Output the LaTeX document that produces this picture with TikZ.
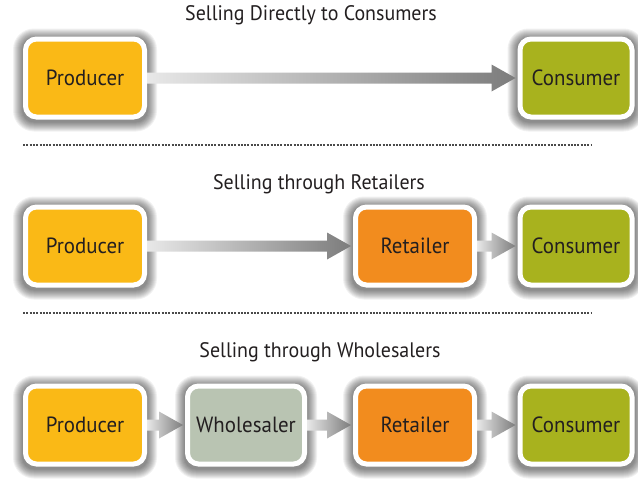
\documentclass[tikz,border=0pt]{standalone}
\usepackage{fontspec}
\setmainfont[FakeStretch=0.95]{PT Sans}
\usetikzlibrary{calc,backgrounds}
\definecolor{prodY}{HTML}{FAB916}
\definecolor{consG}{HTML}{A8B21E}
\definecolor{retO}{HTML}{F28C1E}
\definecolor{wholeG}{HTML}{B9C4B2}
\definecolor{txt}{HTML}{231F20}
\definecolor{arrLight}{HTML}{E8E8E8}
\definecolor{arrDark}{HTML}{7C7C7C}
\definecolor{dotC}{HTML}{4A4A4A}
\newcommand\flowarrow[2]{%
  \shade[left color=arrLight, right color=arrDark]
    ($(#1.east)+(0,-5.5)$) -- ($(#2.west)+(-26,-5.5)$) -- ($(#2.west)+(-26,-13.5)$)
    -- ($(#2.west)+(-2,0)$) -- ($(#2.west)+(-26,13.5)$) -- ($(#2.west)+(-26,5.5)$)
    -- ($(#1.east)+(0,5.5)$) -- cycle;}
\newcommand\softshadow[1]{%
  \foreach \i in {1,...,10}{%
    \fill[black, opacity=0.055, rounded corners=11pt+\i pt]
      ($(#1.north west)+(-\i,-\i+2)$) rectangle ($(#1.south east)+(\i,\i+2)$);}}
\begin{document}
\begin{tikzpicture}[x=1pt,y=-1pt,
  box/.style={rounded corners=11pt, draw=white, line width=5pt,
    minimum height=78pt, text=txt, font=\fontsize{22}{24}\selectfont},
  title/.style={text=txt, font=\fontsize{21}{24}\selectfont},
  sep/.style={dotC, line width=2pt, dash pattern=on 2pt off 1.3pt}]
\useasboundingbox (0,0) rectangle (638,479);
\begin{pgfonlayer}{background}
\fill[white] (0,0) rectangle (638,479);
\end{pgfonlayer}

% titles
\node[title] (t1) at (311,15) {Selling Directly to Consumers};
\node[title] (t2) at (319,184) {Selling through Retailers};
\node[title] (t3) at (320,352) {Selling through Wholesalers};

% separators
\draw[sep] (23,145) -- (592,145);
\draw[sep] (23,313) -- (592,313);

% row 1
\node[box, fill=prodY, minimum width=119pt] (p1) at (85,78) {Producer};
\node[box, fill=consG, minimum width=112pt] (c1) at (576,78) {Consumer};
\flowarrow{p1}{c1}

% row 2
\node[box, fill=prodY, minimum width=119pt] (p2) at (85,246) {Producer};
\node[box, fill=retO, minimum width=119pt] (r2) at (415,246) {Retailer};
\node[box, fill=consG, minimum width=112pt] (c2) at (576,246) {Consumer};
\flowarrow{p2}{r2}
\flowarrow{r2}{c2}

% row 3
\node[box, fill=prodY, minimum width=119pt] (p3) at (85,425) {Producer};
\node[box, fill=wholeG, minimum width=117pt] (w3) at (246,425) {Wholesaler};
\node[box, fill=retO, minimum width=119pt] (r3) at (415,425) {Retailer};
\node[box, fill=consG, minimum width=112pt] (c3) at (576,425) {Consumer};
\flowarrow{p3}{w3}
\flowarrow{w3}{r3}
\flowarrow{r3}{c3}

\begin{pgfonlayer}{background}
\foreach \n in {p1,c1,p2,r2,c2,p3,w3,r3,c3}{\softshadow{\n}}
\end{pgfonlayer}
\end{tikzpicture}
\end{document}
